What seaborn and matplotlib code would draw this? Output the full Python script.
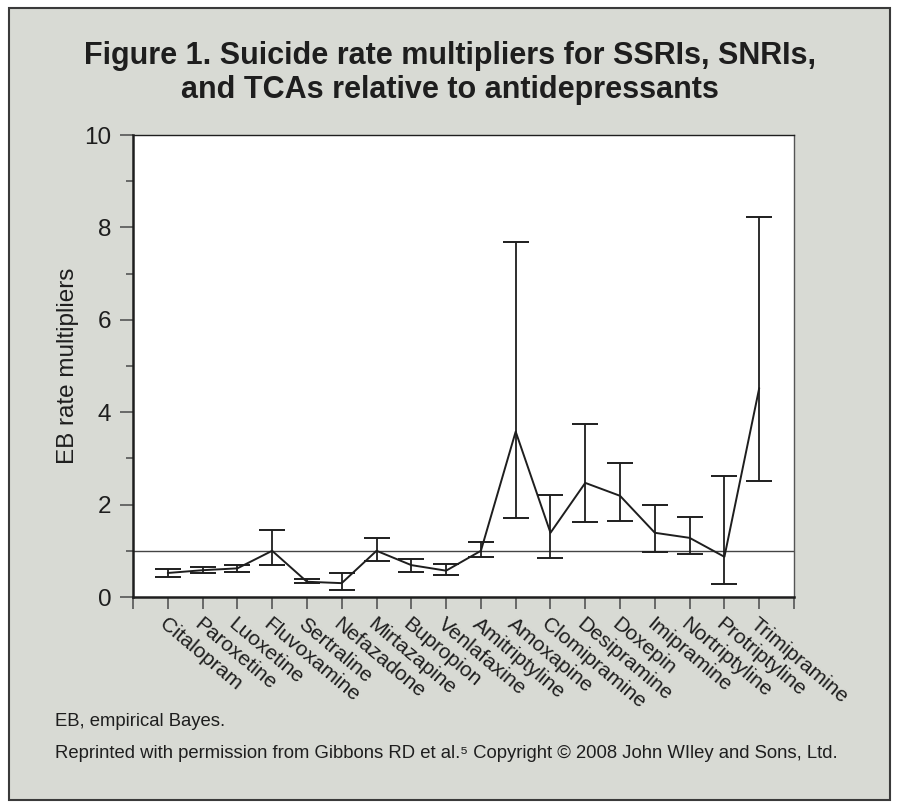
import matplotlib
matplotlib.use("Agg")
import matplotlib.pyplot as plt
import matplotlib.patches as patches
import numpy as np
import pandas as pd
import seaborn as sns

drugs = ["Citalopram", "Paroxetine", "Luoxetine", "Fluvoxamine", "Sertraline",
         "Nefazadone", "Mirtazapine", "Bupropion", "Venlafaxine", "Amitriptyline",
         "Amoxapine", "Clomipramine", "Desipramine", "Doxepin", "Imipramine",
         "Nortriptyline", "Protriptyline", "Trimipramine"]
rate = [0.52, 0.58, 0.62, 1.0, 0.33, 0.30, 1.0, 0.69, 0.57, 1.0,
        3.58, 1.39, 2.47, 2.19, 1.39, 1.28, 0.87, 4.52]
upper = [0.61, 0.65, 0.70, 1.46, 0.38, 0.53, 1.28, 0.82, 0.71, 1.18,
         7.68, 2.20, 3.74, 2.91, 1.99, 1.73, 2.62, 8.22]
lower = [0.44, 0.51, 0.54, 0.69, 0.30, 0.16, 0.78, 0.55, 0.47, 0.86,
         1.71, 0.84, 1.63, 1.64, 0.97, 0.93, 0.28, 2.51]

df = pd.DataFrame({"pos": np.arange(len(drugs)), "drug": drugs,
                   "rate": rate, "upper": upper, "lower": lower})

sns.set_style("ticks")
plt.rcParams["font.family"] = ["Liberation Sans", "DejaVu Sans"]

bg = "#d8dad4"
ink = "#1e1e1e"

fig = plt.figure(figsize=(9, 8.11), dpi=100, facecolor="white")
fig.patches.append(patches.Rectangle((9 / 900, 1 - 800 / 811), 881 / 900, 792 / 811,
                                     transform=fig.transFigure, facecolor=bg,
                                     edgecolor="#3a3a3a", linewidth=1.5, zorder=-10))

ax = fig.add_axes([133 / 900, 1 - 597 / 811, 661 / 900, 462 / 811])
ax.set_facecolor("white")

ax.axhline(1.0, color="#444444", linewidth=1.0, zorder=1)
ax.errorbar(df["pos"], df["rate"],
            yerr=[df["rate"] - df["lower"], df["upper"] - df["rate"]],
            fmt="none", ecolor=ink, elinewidth=1.3, capsize=9.5, capthick=1.4, zorder=2)
sns.lineplot(data=df, x="pos", y="rate", color=ink, linewidth=1.4, ax=ax, zorder=3)

ax.set_xlim(-1, 18)
ax.set_ylim(0, 10)
ax.set_xticks(np.arange(-1, 19))
ax.set_xticklabels([""] + drugs + [""], rotation=-40, ha="left", va="top",
                   rotation_mode="anchor", fontsize=15, color=ink)
ax.set_yticks([0, 2, 4, 6, 8, 10])
ax.set_yticks([1, 3, 5, 7, 9], minor=True)
ax.tick_params(axis="y", which="major", length=9.5, width=1.2, pad=6,
               labelsize=17.5, colors="#555555", labelcolor=ink)
ax.tick_params(axis="y", which="minor", length=5, width=1.2, colors="#555555")
ax.tick_params(axis="x", length=8.5, width=1.2, pad=4, colors="#555555", labelcolor=ink)

ax.set_xlabel("")
ax.set_ylabel("EB rate multipliers", fontsize=17.5, color=ink, labelpad=4)

ax.spines["left"].set_linewidth(1.8)
ax.spines["bottom"].set_linewidth(1.8)
ax.spines["top"].set_linewidth(1.0)
ax.spines["right"].set_linewidth(1.0)
for s in ax.spines.values():
    s.set_color(ink)
ax.spines["right"].set_color("#555555")

fig.text(0.5, 1 - 73 / 811,
         "Figure 1. Suicide rate multipliers for SSRIs, SNRIs,\nand TCAs relative to antidepressants",
         ha="center", va="center", fontsize=22, fontweight="bold", color=ink, linespacing=1.2)

fig.text(55 / 900, 1 - 722 / 811, "EB, empirical Bayes.", fontsize=13.3, color=ink, va="center")
fig.text(55 / 900, 1 - 753 / 811,
         "Reprinted with permission from Gibbons RD et al.\u2075 Copyright \u00a9 2008 John WIley and Sons, Ltd.",
         fontsize=13.3, color=ink, va="center")

fig.savefig("out.png", dpi=100, facecolor="white")
